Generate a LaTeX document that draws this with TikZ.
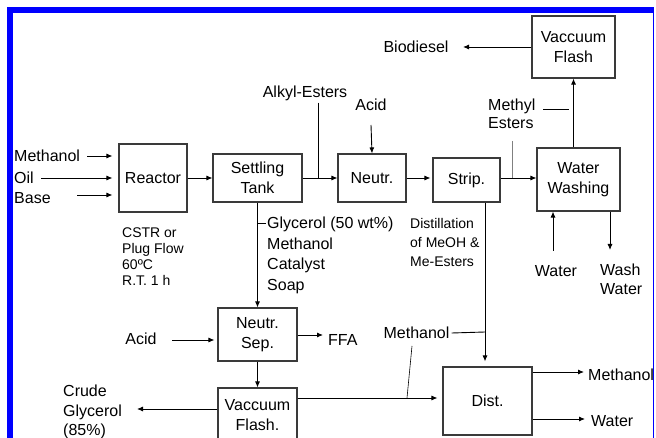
\documentclass[tikz,border=0pt]{standalone}
\usepackage{fontspec}
\setmainfont{Liberation Sans}
\usetikzlibrary{positioning,arrows.meta}
\definecolor{frame}{HTML}{0000FF}
\definecolor{boxline}{HTML}{3A3A3A}

\begin{document}
\begin{tikzpicture}[x=1pt,y=-1pt,
  font=\fontsize{16}{19}\selectfont,
  unit/.style args={#1/#2}{draw=boxline,line width=1.1pt,inner sep=0pt,align=center,
    minimum width=#1pt,minimum height=#2pt,font=\fontsize{16}{20}\selectfont},
  lbl/.style={inner sep=2pt},
  notes/.style={inner sep=0pt,anchor=north west,align=left},
  pipe/.style={line width=0.9pt},
  flow/.style={pipe,-{Latex[length=6pt,width=5pt]}},
  lead/.style={gray,line width=0.8pt}]
  \useasboundingbox (0,0) rectangle (656,438);
  % process units
  \node[unit={68/68}] (reactor) at (153,178) {Reactor};
  \node[unit={89/48}] (settle) at (257.5,178) {Settling\\Tank};
  \node[unit={68/48}] (neutr) at (372,178) {Neutr.};
  \node[unit={67/44}] (strip) at (466.5,180) {Strip.};
  \node[unit={83/63}] (wash) at (578.5,179.5) {Water\\Washing};
  \node[unit={83/62}] (vtop) at (573.5,47) {Vaccuum\\Flash};
  \node[unit={79/53}] (nsep) at (257.5,334.5) {Neutr.\\Sep.};
  \node[unit={79/54}] (vbot) at (257.5,415) {Vaccuum\\Flash.};
  \node[unit={89/68}] (dist) at (487.5,401) {Dist.};

  % feeds to the reactor
  \foreach \nm/\lab/\yt/\xs/\ya in {feedA/Methanol/156/87/156, feedB/Oil/178/41/178, feedC/Base/198/77/195}
  {
    \node[lbl,anchor=west] (\nm) at (12,\yt) {\lab};
    \coordinate (\nm-s) at (\xs,\ya);
    \draw[flow] (\nm-s) -- ([xshift=-6pt]reactor.west |- \nm-s);
  }
  \node[notes,font=\fontsize{14}{16}\selectfont] (cond) at (122,228) {CSTR or\\Plug Flow\\60ºC\\R.T. 1 h};

  % ester line
  \coordinate (jA) at (318,178);
  \draw[flow] (reactor.east) -- (settle.west);
  \draw[flow] (settle.east) -- (neutr.west);
  \node[lbl] (alkyl) at (305,93) {Alkyl-Esters};
  \draw[pipe] (alkyl.south -| jA) -- (jA);
  \node[lbl] (acidT) at (371,105) {Acid};
  \coordinate (acidT-s) at (371,125);
  \draw[flow] (acidT-s) -- (neutr.north);
  \draw[flow] (neutr.east) -- ([xshift=-2pt]strip.west |- neutr.east);
  \draw[flow] (strip.east |- jA) -- (wash.west |- jA);
  \node[notes,font=\fontsize{16}{18}\selectfont] (mest) at (488,99) {Methyl\\Esters};
  \coordinate (mest-a) at (543,109);
  \coordinate (mest-b) at (512,141);
  \draw[pipe] (mest-a) -- ([xshift=-5pt]mest-a -| vtop.south);
  \draw[lead] (mest-b) -- (mest-b |- jA);
  \draw[flow] (vtop.south |- wash.north) -- (vtop.south);
  \node[lbl] (bio) at (416,47) {Biodiesel};
  \coordinate (bio-t) at (463,47);
  \draw[flow] (vtop.west) -- (bio-t);

  % wash water
  \node[lbl] (wIn) at (556,271) {Water};
  \coordinate (wIn-s) at (553,251);
  \draw[flow] (wIn-s) -- (wIn-s |- wash.south);
  \node[notes] (wOut) at (600,264) {Wash\\Water};
  \coordinate (wOut-t) at (610,250);
  \draw[flow] (wOut-t |- wash.south) -- (wOut-t);

  % glycerol phase
  \draw[flow] (settle.south) -- (nsep.north);
  \node[notes,font=\fontsize{16}{20.5}\selectfont] (gly) at (267,217) {Glycerol (50 wt\%)\\Methanol\\Catalyst\\Soap};
  \coordinate (gly-t) at (266,223);
  \draw[pipe] (settle.south |- gly-t) -- (gly-t);
  \node[lbl] (acidL) at (141,339) {Acid};
  \coordinate (acidL-s) at (172,340);
  \draw[flow] (acidL-s) -- ([xshift=-3pt]nsep.west |- acidL-s);
  \node[lbl,anchor=west] (ffa) at (326,340) {FFA};
  \coordinate (ffa-t) at (323,335);
  \draw[flow] (nsep.east |- ffa-t) -- (ffa-t);
  \draw[flow] (nsep.south) -- (vbot.north);
  \node[notes,font=\fontsize{16}{19.5}\selectfont] (crude) at (63,385) {Crude\\Glycerol\\(85\%)};
  \coordinate (crude-t) at (137,409);
  \draw[flow] (vbot.west |- crude-t) -- (crude-t);

  % methanol recovery
  \node[notes,font=\fontsize{14}{19}\selectfont] (distl) at (410,218) {Distillation\\of MeOH \&\\Me-Esters};
  \coordinate (jS) at (485,332);
  \draw[pipe] (strip.south -| jS) -- (jS);
  \draw[flow] (jS) -- ([yshift=5pt]dist.north -| jS);
  \node[lbl] (methM) at (416.5,333) {Methanol};
  \draw[pipe] (methM.east) -- (jS);
  \coordinate (jM) at (407,398);
  \coordinate (methM-l) at (412,346);
  \draw[pipe,line width=0.6pt] (methM-l) -- (jM);
  \draw[flow] (vbot.east |- jM) -- ([xshift=-5pt]dist.west |- jM);
  \coordinate (dM) at (584,372);
  \coordinate (dW) at (585,419);
  \draw[flow] (dist.east |- dM) -- (dM);
  \draw[flow] (dist.east |- dW) -- (dW);
  \node[lbl,anchor=west] (mOut) at (586,375) {Methanol};
  \node[lbl,anchor=west] (wOut2) at (589,421) {Water};

  % frame
  \fill[frame] (7.3,7.3) rectangle (653,13.3);
  \fill[frame] (7.3,7.3) rectangle (12.7,438);
  \fill[frame] (652.8,7.3) rectangle (654.3,438);
\end{tikzpicture}
\end{document}
